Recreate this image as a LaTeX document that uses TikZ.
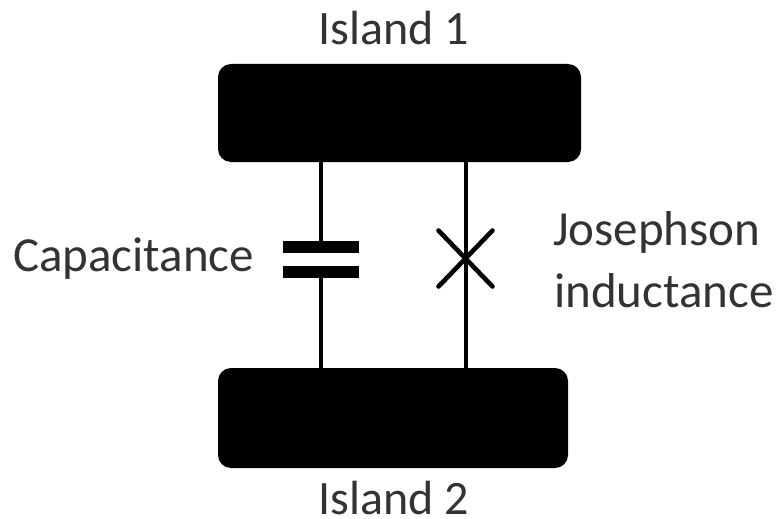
\documentclass[tikz,border=0pt]{standalone}
\usepackage{fontspec}
\setmainfont{Carlito}
\usetikzlibrary{calc}
\tikzset{
  island/.style={fill=black,draw=none,rounded corners=13pt,inner sep=0pt},
  wire/.style={line width=4.6pt,black},
  plate/.style={fill=black,draw=none,minimum width=76pt,minimum height=12pt,inner sep=0pt},
  lbl/.style={text=black!80,font=\fontsize{49}{58}\selectfont,inner sep=0pt,align=left},
  islandlbl/.style={lbl,font=\fontsize{48}{58}\selectfont}
}
\begin{document}
\begin{tikzpicture}[x=1pt,y=-1pt]
\useasboundingbox (0,0) rectangle (776,519);
% islands
\fill[island] (218,64) rectangle (581,162);
\fill[island] (218,368) rectangle (568,468);
\coordinate (topleft) at (321,162);
\coordinate (botleft) at (321,368);
\coordinate (topright) at (466,162);
\coordinate (botright) at (466,368);
\node[plate] (capa) at (321,247) {};
\node[plate] (capb) at (321,272) {};
\draw[wire] (topleft) -- (capa.north -| topleft);
\draw[wire] (capb.south -| botleft) -- (botleft);
\draw[wire] (topright) -- (botright);
\coordinate (jj) at (465.5,258.5);
\draw[wire,line cap=round] ($(jj)+(-27,-28)$) -- ($(jj)+(27,28)$);
\draw[wire,line cap=round] ($(jj)+(-27,28)$) -- ($(jj)+(27,-28)$);
% labels
\node[islandlbl] (island1) at (393.5,28) {Island 1};
\node[islandlbl] (island2) at (393.5,498) {Island 2};
\node[lbl,anchor=west] (cap) at (13,259) {Capacitance};
\node[lbl,anchor=west] (jos) at (553,232) {Josephson};
\node[lbl,anchor=west] (ind) at (554,291) {inductance};
\end{tikzpicture}
\end{document}
